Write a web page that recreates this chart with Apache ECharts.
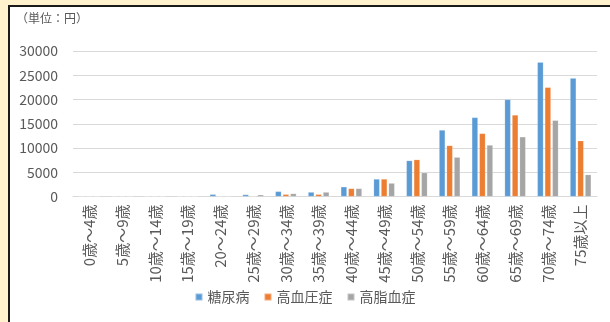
<!DOCTYPE html>
<html><head><meta charset="utf-8">
<script src="https://cdn.jsdelivr.net/npm/echarts@6/dist/echarts.min.js"></script>
<style>html,body{margin:0;padding:0;background:#FFF2CC;}#c{width:610px;height:322px;}</style>
</head><body><div id="c"></div>
<script>
const categories = ['0歳～4歳','5歳～9歳','10歳～14歳','15歳～19歳','20～24歳','25歳～29歳','30歳～34歳','35歳～39歳','40歳～44歳','45歳～49歳','50歳～54歳','55歳～59歳','60歳～64歳','65歳～69歳','70歳～74歳','75歳以上'];
const diabetes     = [10, 10, 10, 20, 450, 400, 1050, 900, 2000, 3600, 7400, 13700, 16300, 20000, 27700, 24400];
const hypertension = [0, 0, 0, 10, 50, 80, 450, 450, 1650, 3600, 7600, 10500, 13000, 16800, 22500, 11500];
const lipid        = [0, 0, 0, 10, 60, 350, 600, 900, 1650, 2750, 4900, 8100, 10600, 12300, 15700, 4500];
const seriesNames = ['糖尿病','高血圧症','高脂血症'];
const colors = ['#5B9BD5','#ED7D31','#A5A5A5'];
const yTicks = {min: 0, max: 30000, interval: 5000};

const FONT = '"Noto Sans CJK JP","Noto Sans",sans-serif';
const chart = echarts.init(document.getElementById('c'), null, {renderer:'canvas'});
const mk = (name, data, i) => ({
  name, type:'bar', data, barWidth: 6, barGap: '25%',
  itemStyle: {color: colors[i], borderColor: 'rgba(255,255,255,0.35)', borderWidth: 0.5},
  emphasis: {disabled: true}
});
chart.setOption({
  animation: false,
  backgroundColor: '#FFF2CC',
  textStyle: {fontFamily: FONT},
  graphic: [
    {type:'rect', shape:{x:9, y:6, width:700, height:400}, style:{fill:'#ffffff', stroke:'#1a1a1a', lineWidth:2}, z:-10},
    {type:'text', left: 16, top: 12, style:{text:'（単位：円）', fill:'#595959', font:'12px ' + FONT}}
  ],
  grid: {left: 73, right: 13, top: 51, bottom: 125.5},
  legend: {
    data: seriesNames, bottom: 13, left: 'center',
    itemWidth: 7, itemHeight: 7, itemGap: 14, icon: 'rect',
    textStyle: {color:'#595959', fontSize: 14, fontFamily: FONT}
  },
  xAxis: {
    type:'category', data: categories,
    axisLine: {lineStyle:{color:'#D9D9D9'}},
    axisTick: {show:false},
    axisLabel: {rotate: 90, color:'#595959', fontSize: 15, margin: 8, interval: 0, fontFamily: FONT}
  },
  yAxis: {
    type:'value', min: yTicks.min, max: yTicks.max, interval: yTicks.interval,
    axisLine: {show:false}, axisTick: {show:false},
    splitLine: {lineStyle:{color:'#D9D9D9', width:1}},
    axisLabel: {color:'#595959', fontSize: 14, margin: 15, fontFamily: FONT, formatter: v => String(v)}
  },
  series: [mk(seriesNames[0], diabetes, 0), mk(seriesNames[1], hypertension, 1), mk(seriesNames[2], lipid, 2)]
});
</script></body></html>
